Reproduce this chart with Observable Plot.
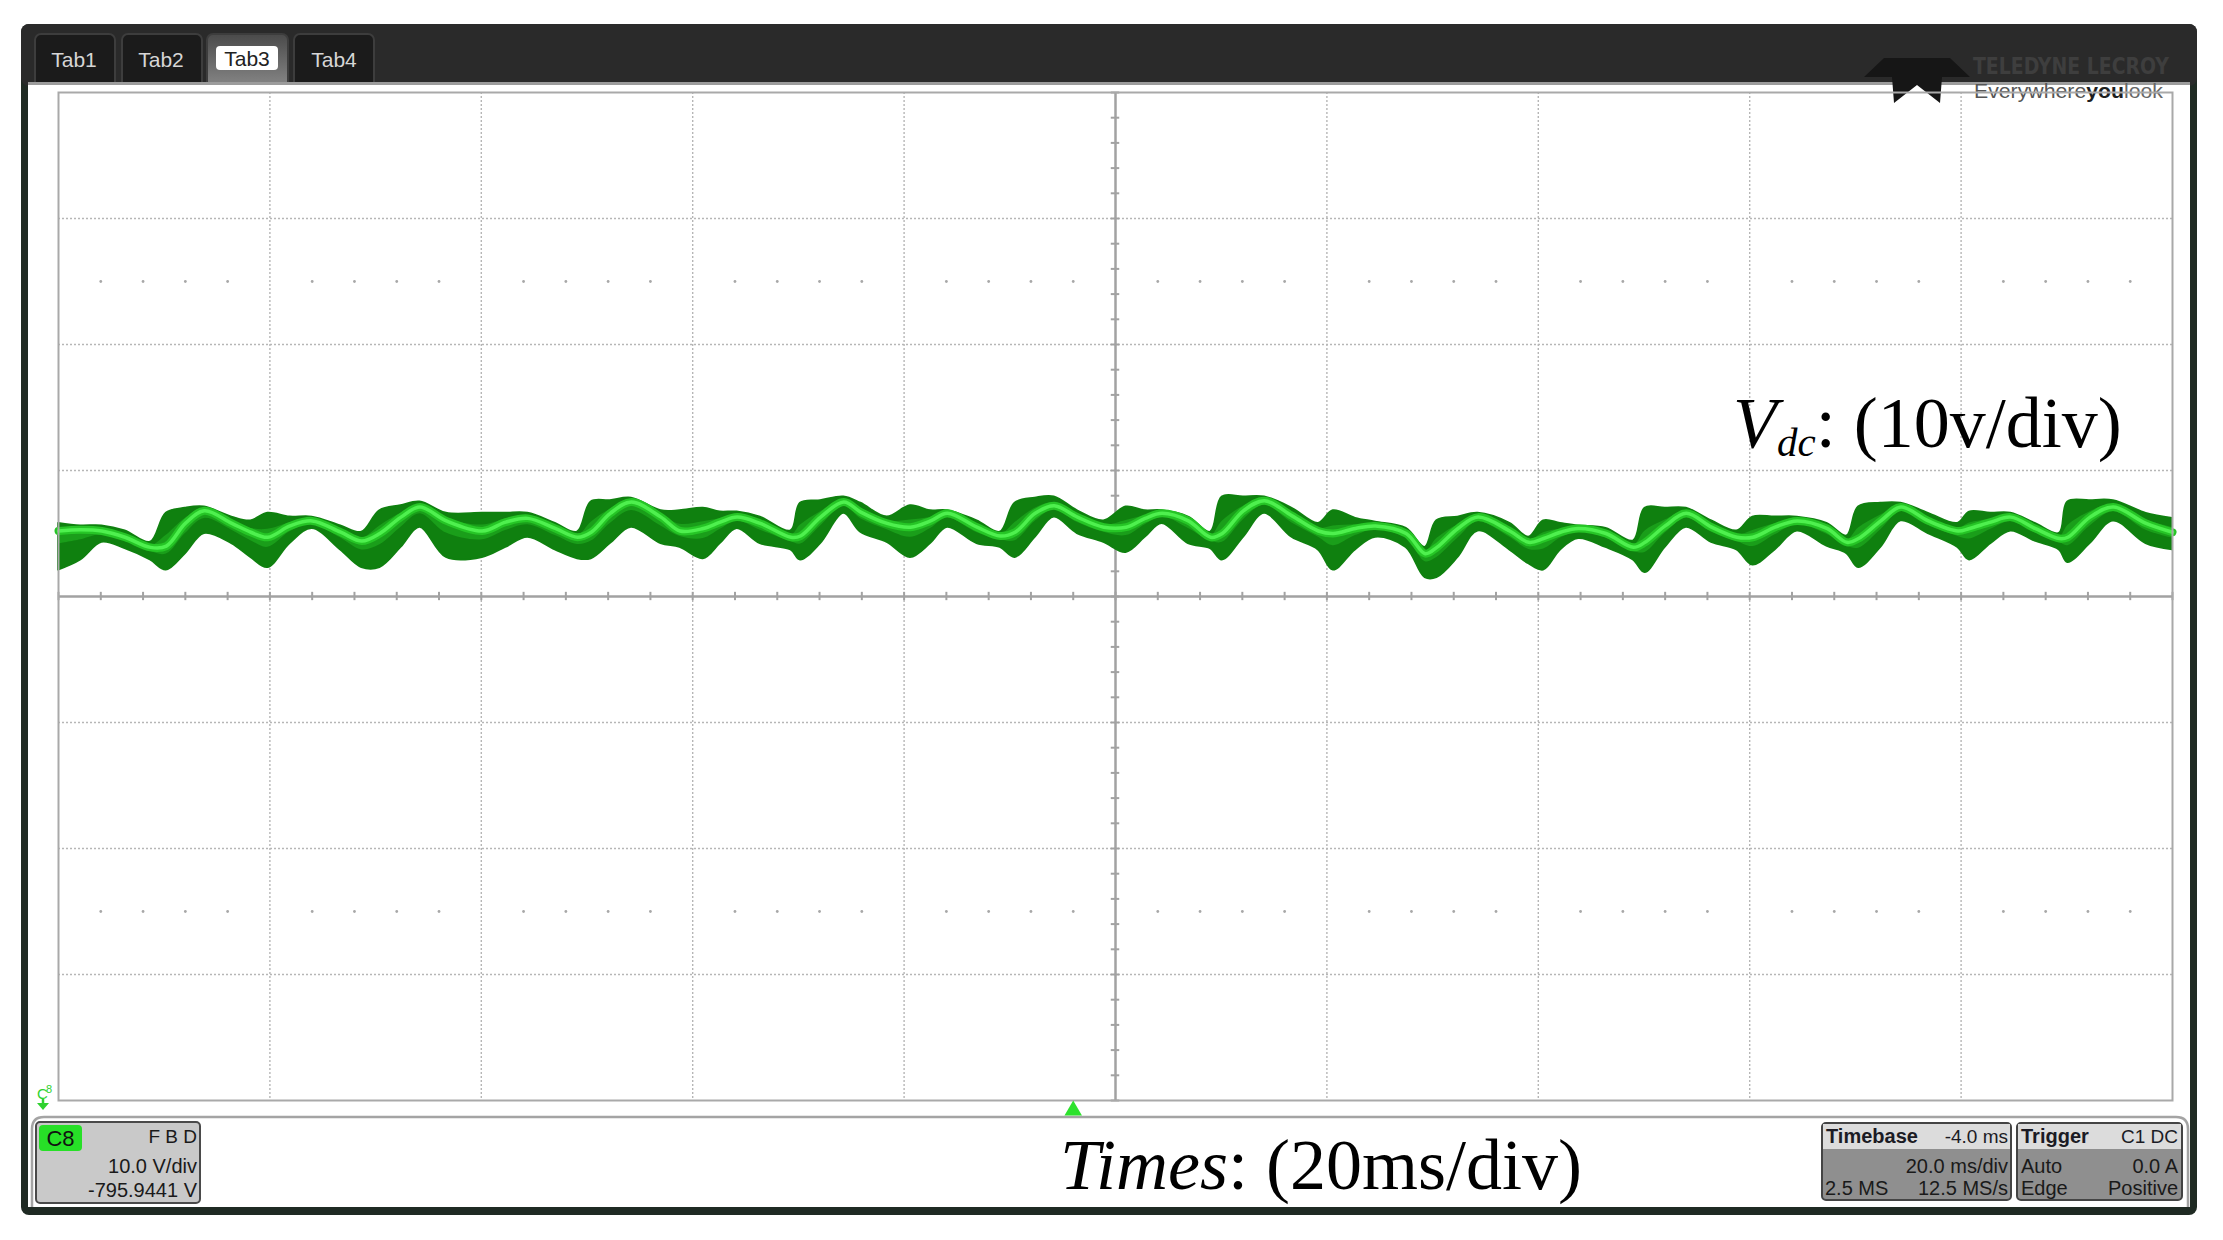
<!DOCTYPE html>
<html><head><meta charset="utf-8">
<script src="https://cdn.jsdelivr.net/npm/d3@7"></script>
<script src="https://cdn.jsdelivr.net/npm/@observablehq/plot@0.6"></script>
<style>
html,body{margin:0;padding:0;background:#fff;}
#page{position:relative;width:2223px;height:1240px;overflow:hidden;background:#fff;}
#bg,#fg{position:absolute;left:0;top:0;}
#fg{pointer-events:none;}
#plot{position:absolute;left:58px;top:92px;}
text{font-family:"Liberation Sans",Arial,sans-serif;}
.serif{font-family:"Liberation Serif","Times New Roman",serif;}
</style></head>
<body><div id="page">
<svg id="bg" width="2223" height="1240">
  <defs>
    <linearGradient id="tabAct" x1="0" y1="0" x2="0" y2="1">
      <stop offset="0" stop-color="#4a4a4a"/><stop offset="1" stop-color="#8a8a8a"/>
    </linearGradient>
  </defs>
  <rect x="21" y="24" width="2176" height="1191" rx="8" fill="#1f2a23"/>
  <rect x="21" y="24" width="2176" height="62" rx="8" fill="#2a2a2a"/>
  <!-- tabs -->
  <rect x="35" y="34" width="80" height="56" rx="6" fill="#1b1b1b" stroke="#3d3d3d" stroke-width="2"/>
  <rect x="122" y="34" width="80" height="56" rx="6" fill="#1b1b1b" stroke="#3d3d3d" stroke-width="2"/>
  <rect x="207" y="34" width="81" height="56" rx="6" fill="url(#tabAct)" stroke="#3d3d3d" stroke-width="2"/>
  <rect x="294" y="34" width="80" height="56" rx="6" fill="#1b1b1b" stroke="#3d3d3d" stroke-width="2"/>
  <text x="74" y="67" font-size="21" fill="#d6d6d6" text-anchor="middle">Tab1</text>
  <text x="161" y="67" font-size="21" fill="#d6d6d6" text-anchor="middle">Tab2</text>
  <rect x="216" y="46" width="62" height="24" rx="4" fill="#ffffff"/>
  <text x="247" y="66" font-size="21" fill="#222" text-anchor="middle">Tab3</text>
  <text x="334" y="67" font-size="21" fill="#d6d6d6" text-anchor="middle">Tab4</text>
  <!-- white panel -->
  <rect x="28" y="82" width="2162" height="1125" fill="#ffffff"/>
  <line x1="28" y1="83.5" x2="2190" y2="83.5" stroke="#9c9c9c" stroke-width="3"/>
  <!-- logo -->
  <polygon points="1864,77 1884,58 1950,58 1970,77 1942,77 1940,103 1917,85 1894,103 1892,77" fill="#161616"/>
  <text x="1973" y="74" font-size="23" font-weight="bold" fill="#3e3e3e" textLength="196" lengthAdjust="spacingAndGlyphs" style="font-family:'Liberation Sans Narrow','DejaVu Sans Condensed',sans-serif">TELEDYNE LECROY</text>
  <text x="1974" y="98" font-size="20" fill="#555" textLength="189" lengthAdjust="spacingAndGlyphs">Everywhere<tspan font-weight="bold" fill="#1e1e1e">you</tspan><tspan fill="#666">look</tspan></text>
  <!-- lower panel -->
  <path d="M32 1207 L32 1129 Q32 1117 44 1117 L2176 1117 Q2188 1117 2188 1129 L2188 1207" fill="none" stroke="#a4a4a4" stroke-width="2.5"/>
  <!-- C8 box -->
  <rect x="36" y="1122" width="164" height="81" rx="4" fill="#c9c9c9" stroke="#4a4a4a" stroke-width="2"/>
  <rect x="39" y="1125" width="43" height="26" rx="4" fill="#27e027"/>
  <text x="60.5" y="1146" font-size="22" fill="#111" text-anchor="middle">C8</text>
  <text x="197" y="1143" font-size="19" fill="#1a1a1a" text-anchor="end">F  B  D</text>
  <text x="197" y="1173" font-size="20" fill="#1a1a1a" text-anchor="end">10.0 V/div</text>
  <text x="197" y="1197" font-size="20" fill="#1a1a1a" text-anchor="end">-795.9441 V</text>
  <!-- Timebase box -->
  <rect x="1822" y="1123" width="189" height="77" rx="4" fill="#8f8f8f" stroke="#444" stroke-width="2"/>
  <rect x="1823" y="1124" width="187" height="25" fill="#dcdcdc"/>
  <text x="1826" y="1143" font-size="20" font-weight="bold" fill="#1b1b24">Timebase</text>
  <text x="2008" y="1143" font-size="19" fill="#1b1b24" text-anchor="end">-4.0 ms</text>
  <text x="2008" y="1173" font-size="20" fill="#1a1a1a" text-anchor="end">20.0 ms/div</text>
  <text x="1825" y="1195" font-size="20" fill="#1a1a1a">2.5 MS</text>
  <text x="2008" y="1195" font-size="20" fill="#1a1a1a" text-anchor="end">12.5 MS/s</text>
  <!-- Trigger box -->
  <rect x="2017" y="1123" width="165" height="77" rx="4" fill="#8f8f8f" stroke="#444" stroke-width="2"/>
  <rect x="2018" y="1124" width="163" height="25" fill="#dcdcdc"/>
  <text x="2021" y="1143" font-size="20" font-weight="bold" fill="#1b1b24">Trigger</text>
  <text x="2178" y="1143" font-size="19" fill="#1b1b24" text-anchor="end">C1  DC</text>
  <text x="2021" y="1173" font-size="20" fill="#1a1a1a">Auto</text>
  <text x="2178" y="1173" font-size="20" fill="#1a1a1a" text-anchor="end">0.0 A</text>
  <text x="2021" y="1195" font-size="20" fill="#1a1a1a">Edge</text>
  <text x="2178" y="1195" font-size="20" fill="#1a1a1a" text-anchor="end">Positive</text>
  <!-- channel ground marker -->
  <text x="37" y="1099" font-size="15" fill="#2fd22f">C</text>
  <text x="46" y="1093" font-size="11" fill="#2fd22f">8</text>
  <line x1="43" y1="1099" x2="43" y2="1104" stroke="#2fd22f" stroke-width="2.5"/>
  <polygon points="37,1103 49,1103 43,1110" fill="#2fd22f"/>
</svg>
<div id="plot"></div>
<svg id="fg" width="2223" height="1240">
  <text class="serif" x="1733" y="447" font-size="72" fill="#000"><tspan font-style="italic">V</tspan><tspan font-style="italic" font-size="41" dy="9">dc</tspan><tspan dy="-9">: (10v/div)</tspan></text>
  <text class="serif" x="1060" y="1189" font-size="72" fill="#000"><tspan font-style="italic">Times</tspan>: (20ms/div)</text>
</svg>
</div>
<script>
// Time on screen (ms, 20 ms/div, 10 div)
const timeMs = [0.0,2.1,4.1,6.3,8.7,10.2,12.0,13.8,16.4,18.2,19.8,21.9,24.0,26.7,28.7,30.4,32.4,34.2,36.7,40.1,42.3,44.4,47.0,49.1,50.4,52.2,54.2,57.0,58.8,61.0,62.6,64.2,66.4,69.3,70.2,72.1,74.3,75.9,78.4,80.6,82.5,84.1,86.9,89.1,90.5,92.4,94.2,96.4,98.9,101.0,102.8,104.4,106.9,109.0,110.1,112.1,114.1,116.7,119.2,120.6,122.7,124.6,127.5,129.3,130.4,132.4,134.3,137.3,139.1,140.5,142.1,143.8,146.4,149.0,150.1,152.0,154.0,156.4,158.8,160.3,162.4,164.5,167.3,169.2,170.3,172.4,174.3,176.9,179.7,180.8,182.8,184.7,187.0,189.3,190.1,192.2,194.4,197.5,200.0];
// Vdc relative to screen centre (V, 10 V/div): mean trace, upper and lower noise envelope
const vdcMid = [5.2,5.3,5.2,4.7,3.9,4.0,5.8,6.8,5.8,5.1,4.7,5.6,6.0,5.1,4.4,5.0,6.3,7.1,6.0,5.2,5.9,6.2,5.4,4.7,5.1,6.6,7.5,6.3,5.2,5.4,5.9,6.3,5.8,4.7,4.8,6.3,7.5,6.7,5.8,5.5,6.0,6.6,5.5,4.8,5.1,6.6,7.2,6.3,5.5,5.5,6.2,6.6,6.0,4.7,5.0,6.8,7.6,6.4,5.2,5.0,5.4,5.6,5.0,3.4,3.9,5.4,6.3,5.2,4.3,4.6,5.1,5.4,5.0,3.9,4.3,5.6,6.6,5.5,4.7,4.7,5.5,6.0,5.4,4.3,4.6,6.0,7.1,6.0,5.2,5.4,5.9,6.3,5.4,4.6,4.7,6.3,7.1,5.8,5.1];
const vdcHigh = [5.8,5.6,5.6,5.2,4.3,6.6,7.0,7.1,6.3,6.0,6.6,6.3,6.3,5.6,5.1,6.8,7.2,7.5,6.6,6.6,6.6,6.6,5.8,5.1,7.5,7.6,7.8,6.8,6.8,7.0,6.7,6.7,6.3,5.2,7.4,7.6,7.9,7.4,6.3,7.2,6.8,6.8,6.0,5.1,7.4,7.8,7.9,6.8,6.0,7.1,6.8,6.8,6.3,5.1,7.9,7.9,7.9,7.0,5.8,6.8,6.2,5.9,5.4,3.9,6.0,6.3,6.6,5.8,4.7,6.0,5.8,5.6,5.4,4.4,7.0,7.0,7.0,6.0,5.2,6.3,6.3,6.3,5.8,4.8,7.1,7.4,7.4,6.6,5.8,6.7,6.6,6.6,5.8,5.0,7.5,7.6,7.6,6.6,6.2];
const vdcLow = [2.1,2.9,4.3,3.8,2.9,2.1,3.4,5.0,4.2,3.1,2.3,4.2,5.4,3.7,2.3,2.3,3.9,5.5,3.1,3.1,3.9,4.7,3.7,3.0,3.0,4.2,5.5,4.2,3.9,3.0,4.2,5.4,4.2,3.7,2.9,4.2,6.6,5.1,4.3,3.1,4.2,5.5,4.2,3.9,3.1,4.7,6.3,5.0,4.3,3.5,4.7,5.8,4.2,3.8,2.9,4.7,6.6,4.7,3.7,2.1,3.7,4.7,3.9,1.5,1.5,3.1,5.2,3.7,2.6,2.1,3.7,4.6,3.9,2.9,1.9,3.9,5.5,4.3,3.7,2.5,3.7,5.2,4.0,3.4,2.3,3.9,6.0,5.0,3.9,2.9,4.2,5.2,4.4,3.7,2.7,4.2,6.0,4.2,3.7];
// Screen graticule
const xDomain = [0, 200];        // ms
const yDomain = [-40, 40];       // V
const xCenter = 100, yCenter = 0;
const triggerMs = [96];          // trigger marker (timebase delay -4.0 ms)
const gridX = d3.range(20, 200, 20).filter(v => v !== xCenter);
const gridY = d3.range(-30, 40, 10).filter(v => v !== yCenter);
const minorX = d3.range(0, 200.01, 4);
const minorY = d3.range(-40, 40.01, 2);
const dotRows = [-25, 25];

const trace = timeMs.map((t, i) => ({t, mid: vdcMid[i], hi: vdcHigh[i], lo: vdcLow[i]}));
const dots = dotRows.flatMap(v => minorX.filter(t => t % 20 !== 0).map(t => ({t, v})));

const gridGray = "#b6b6b6", axisGray = "#a2a2a2";
const chart = Plot.plot({
  width: 2114, height: 1030,
  marginTop: 0, marginLeft: 0, marginRight: 0, marginBottom: 22,
  x: {domain: xDomain, axis: null},
  y: {domain: yDomain, axis: null},
  style: {background: "transparent", overflow: "visible"},
  marks: [
    Plot.ruleX(gridX, {stroke: gridGray, strokeWidth: 1.4, strokeDasharray: "2,2"}),
    Plot.ruleY(gridY, {stroke: gridGray, strokeWidth: 1.4, strokeDasharray: "2,2"}),
    Plot.dot(dots, {x: "t", y: "v", r: 1.4, fill: "#a8a8a8", stroke: null}),
    Plot.ruleX([xCenter], {stroke: axisGray, strokeWidth: 2.5}),
    Plot.ruleY([yCenter], {stroke: axisGray, strokeWidth: 2.5}),
    Plot.ruleX(minorX, {x: d => d, y1: -0.33, y2: 0.33, stroke: axisGray, strokeWidth: 2}),
    Plot.ruleY(minorY, {y: d => d, x1: xCenter - 0.4, x2: xCenter + 0.4, stroke: axisGray, strokeWidth: 2}),
    Plot.areaY(trace, {x: "t", y1: "lo", y2: "hi", fill: "#0f800f", stroke: "#0f800f", strokeWidth: 2, curve: "catmull-rom"}),
    Plot.areaY(trace, {x: "t", y1: d => (d.lo + 2 * d.mid) / 3, y2: d => (d.hi + 2 * d.mid) / 3, fill: "#1a9e1a", curve: "catmull-rom"}),
    Plot.line(trace, {x: "t", y: "mid", stroke: "#26c526", strokeWidth: 8, curve: "catmull-rom"}),
    Plot.line(trace, {x: "t", y: "mid", stroke: "#4ef04e", strokeWidth: 3.5, curve: "catmull-rom"}),
    Plot.frame({stroke: "#a9a9a9", strokeWidth: 2}),
    Plot.dot(triggerMs, {x: d => d, frameAnchor: "bottom", dy: 10, symbol: "triangle", r: 6.5, fill: "#2de22d", stroke: null})
  ]
});
document.getElementById("plot").appendChild(chart);
</script>
</body></html>
